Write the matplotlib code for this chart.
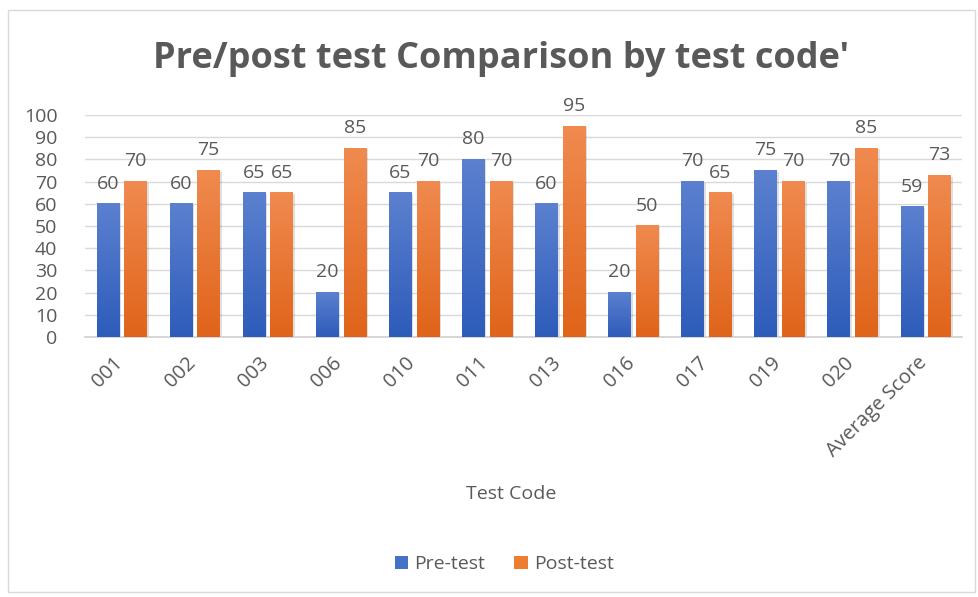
import numpy as np
import matplotlib
matplotlib.use("Agg")
from matplotlib import pyplot as plt
from matplotlib.colors import LinearSegmentedColormap
from matplotlib.patches import Rectangle
from matplotlib.transforms import ScaledTranslation

codes = ['001', '002', '003', '006', '010', '011', '013', '016', '017', '019', '020', 'Average Score']
pre_test = [60, 60, 65, 20, 65, 80, 60, 20, 70, 75, 70, 58.6]
post_test = [70, 75, 65, 85, 70, 70, 95, 50, 65, 70, 85, 72.7]

plt.rcParams['font.family'] = ['Open Sans', 'DejaVu Sans']
gray = '#595959'

fig = plt.figure(figsize=(9.79, 5.97), dpi=100)
fig.patches.append(Rectangle((0.008, 0.008), 0.988, 0.975, transform=fig.transFigure,
                             fill=False, edgecolor='#d9d9d9', linewidth=1))
ax = fig.add_axes([0.087, 0.4355, 0.896, 0.372])

blue = LinearSegmentedColormap.from_list('b', ['#2e5cba', '#5b80cf'])
orange = LinearSegmentedColormap.from_list('o', ['#e0641a', '#f08a4f'])
grad = np.linspace(0, 1, 64).reshape(-1, 1)

x = np.arange(len(codes))
w = 0.31
off = 0.19
for xs, vals, cmap, name in [(x - off, pre_test, blue, 'Pre-test'),
                             (x + off, post_test, orange, 'Post-test')]:
    bars = ax.bar(xs, vals, w, color='none', label=name, zorder=3)
    for b, v in zip(bars, vals):
        x0 = b.get_x()
        # soft shadow
        ax.add_patch(Rectangle((x0 + 0.025, 0), w, v - 0.5, facecolor='#000000', alpha=0.12,
                               zorder=2, linewidth=0))
        ax.imshow(grad, cmap=cmap, origin='lower', aspect='auto',
                  extent=(x0, x0 + w, 0, v), zorder=3)
        ax.text(x0 + w / 2, v + 5, f'{v:.0f}', ha='center', va='bottom',
                fontsize=14, color=gray, zorder=4)

ax.set_xlim(-0.5, len(codes) - 0.5)
ax.set_ylim(0, 100)
ax.set_yticks(range(0, 101, 10))
ax.yaxis.grid(True, color='#d9d9d9', linewidth=1, zorder=0)
ax.set_axisbelow(True)
for s in ['top', 'right', 'left']:
    ax.spines[s].set_visible(False)
ax.spines['bottom'].set_color('#d0d0d0')
ax.spines['bottom'].set_linewidth(1.2)
ax.tick_params(axis='both', length=0, labelsize=14, labelcolor=gray)
ax.tick_params(axis='y', pad=20)
ax.set_xticks(x)
ax.set_xticklabels(codes, rotation=45, ha='right', rotation_mode='anchor', fontsize=14.5)
ax.tick_params(axis='x', pad=11.5)
shift = ScaledTranslation(-0.09, 0, fig.dpi_scale_trans)
for lbl in ax.get_xticklabels():
    lbl.set_transform(lbl.get_transform() + shift)

fig.text(0.512, 0.902, "Pre/post test Comparison by test code'", ha='center', va='center',
         fontsize=26, fontweight='bold', color=gray)
fig.text(0.522, 0.173, 'Test Code', ha='center', va='center', fontsize=14, color=gray)

h1 = Rectangle((0, 0), 1, 1, facecolor='#4472c4')
h2 = Rectangle((0, 0), 1, 1, facecolor='#ed7d31')
fig.legend([h1, h2], ['Pre-test', 'Post-test'], loc='center', bbox_to_anchor=(0.515, 0.055),
           ncol=2, frameon=False, fontsize=14, labelcolor=gray, handlelength=0.7,
           handleheight=0.7, handletextpad=0.3, columnspacing=1.5)

fig.savefig('out.png', dpi=100)
